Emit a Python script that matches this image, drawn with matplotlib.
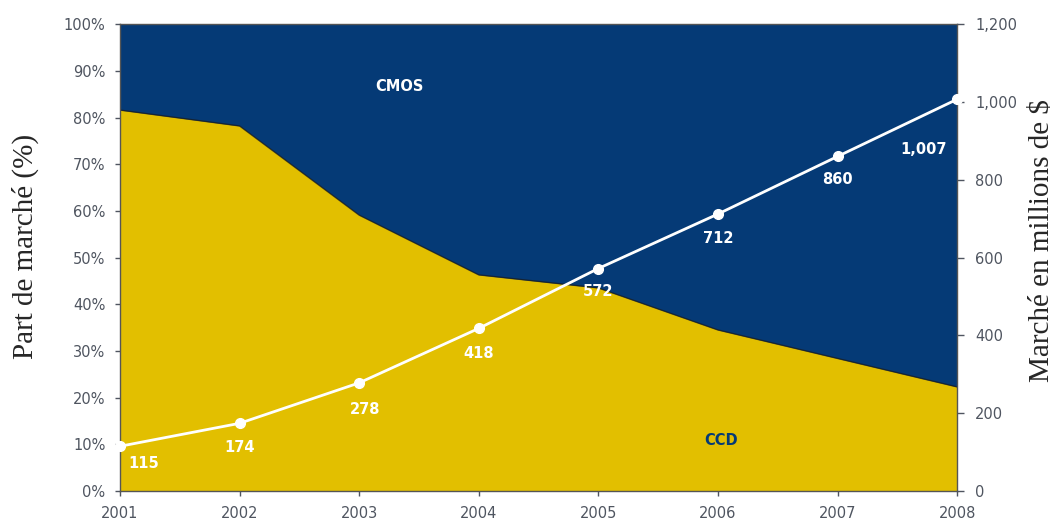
import matplotlib
matplotlib.use("Agg")
from matplotlib import pyplot as plt
import numpy as np

# data
years = [2001, 2002, 2003, 2004, 2005, 2006, 2007, 2008]
ccd_share = [81.6, 78.2, 59.1, 46.3, 43.5, 34.5, 28.4, 22.3]
market = [115, 174, 278, 418, 572, 712, 860, 1007]
market_labels = ["115", "174", "278", "418", "572", "712", "860", "1,007"]
pct_ticks = [0, 10, 20, 30, 40, 50, 60, 70, 80, 90, 100]
usd_ticks = [0, 200, 400, 600, 800, 1000, 1200]

navy = "#053a76"
gold = "#e2bf00"
txt = "#4f5560"

fig = plt.figure(figsize=(10.55, 5.26), dpi=100)
ax = fig.add_axes([0.1137, 0.0665, 0.7935, 0.8875])

ax.fill_between(years, 0, 100, color=navy, lw=0)
ax.fill_between(years, 0, ccd_share, color=gold, lw=0)
ax.plot(years, ccd_share, color="#1a1a1a", lw=1.0, alpha=0.7)

ax.set_xlim(years[0], years[-1])
ax.set_ylim(0, 100)
ax.set_yticks(pct_ticks)
ax.set_yticklabels([f"{p}%" for p in pct_ticks])
ax.set_xticks(years)
ax.set_xticklabels([str(y) for y in years])
ax.tick_params(axis="both", colors=txt, labelsize=10.5, length=3.5, width=1, direction="out")
ax.tick_params(axis="y", pad=7)
ax.tick_params(axis="x", pad=7)
for s in ax.spines.values():
    s.set_color("#555555")
    s.set_linewidth(1)

ax.text(2003.34, 86.7, "CMOS", color="white", fontsize=10.5,
        fontweight="bold", ha="center", va="center")
ax.text(2006.03, 10.9, "CCD", color=navy, fontsize=10.5,
        fontweight="bold", ha="center", va="center")

ax2 = ax.twinx()
ax2.set_ylim(0, 1200)
ax2.set_yticks(usd_ticks)
ax2.set_yticklabels([f"{v:,}" for v in usd_ticks])
ax2.tick_params(axis="y", colors=txt, labelsize=10.5, length=5, width=1, pad=8)
for s in ax2.spines.values():
    s.set_visible(False)

ax2.plot(years, market, color="white", lw=2, marker="o", markersize=7,
         markerfacecolor="white", markeredgecolor="white", clip_on=False, zorder=5)

# label offsets (years, $M) below each point
offsets = [(0.2, -45), (0.0, -62), (0.05, -68), (0.0, -65),
           (0.0, -60), (0.0, -62), (0.0, -60), (-0.28, -128)]
for x, v, lab, (dx, dy) in zip(years, market, market_labels, offsets):
    ax2.text(x + dx, v + dy, lab, color="white", fontsize=10.5, fontweight="bold",
             ha="center", va="center", zorder=6)

fig.text(0.0237, 0.532, "Part de marché (%)", family="Liberation Serif", fontsize=21,
         color="#262626", rotation=90, ha="center", va="center")
fig.text(0.9875, 0.542, "Marché en millions de $", family="Liberation Serif", fontsize=21,
         color="#262626", rotation=90, ha="center", va="center")

fig.savefig("out.png", dpi=100)
